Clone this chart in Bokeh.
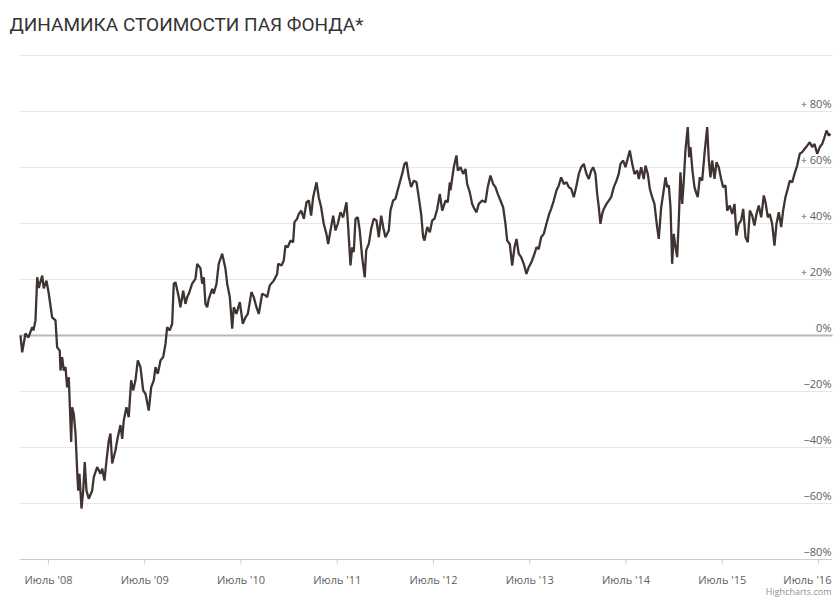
import math
from bokeh.plotting import figure
from bokeh.models import Range1d, Label, ColumnDataSource
from bokeh.core.properties import value
from bokeh.embed import file_html
from bokeh.resources import INLINE

# time as decimal years, value in % change of fund unit price
t = [
2008.209,2008.227,2008.261,2008.292,2008.331,2008.344,2008.365,2008.383,2008.399,2008.435,
2008.451,2008.479,2008.503,2008.538,2008.573,2008.590,2008.617,2008.625,2008.642,2008.659,
2008.677,2008.694,2008.711,2008.721,2008.736,2008.746,2008.763,2008.781,2008.798,2008.809,
2008.822,2008.843,2008.861,2008.877,2008.895,2008.919,2008.954,2008.971,2009.006,2009.040,
2009.058,2009.082,2009.103,2009.127,2009.144,2009.162,2009.196,2009.220,2009.248,2009.266,
2009.282,2009.310,2009.334,2009.359,2009.380,2009.404,2009.428,2009.456,2009.484,2009.508,
2009.542,2009.567,2009.594,2009.612,2009.636,2009.664,2009.692,2009.716,2009.733,2009.760,
2009.785,2009.802,2009.820,2009.854,2009.871,2009.900,2009.923,2009.941,2009.958,2009.993,
2010.027,2010.045,2010.079,2010.097,2010.114,2010.131,2010.149,2010.166,2010.201,2010.217,
2010.246,2010.269,2010.305,2010.339,2010.357,2010.384,2010.409,2010.425,2010.453,2010.488,
2010.519,2010.547,2010.571,2010.609,2010.633,2010.661,2010.685,2010.720,2010.755,2010.772,
2010.799,2010.841,2010.876,2010.887,2010.921,2010.945,2010.962,2010.986,2011.014,2011.042,
2011.056,2011.084,2011.101,2011.126,2011.153,2011.181,2011.205,2011.229,2011.250,2011.285,
2011.308,2011.333,2011.360,2011.388,2011.406,2011.430,2011.458,2011.482,2011.506,2011.534,
2011.562,2011.596,2011.614,2011.638,2011.655,2011.672,2011.690,2011.714,2011.734,2011.759,
2011.786,2011.801,2011.828,2011.853,2011.880,2011.908,2011.932,2011.957,2011.978,2012.001,
2012.036,2012.053,2012.081,2012.105,2012.123,2012.150,2012.175,2012.199,2012.220,2012.244,
2012.268,2012.296,2012.324,2012.347,2012.372,2012.393,2012.407,2012.435,2012.462,2012.487,
2012.511,2012.539,2012.566,2012.591,2012.625,2012.649,2012.670,2012.677,2012.711,2012.739,
2012.753,2012.781,2012.809,2012.833,2012.850,2012.877,2012.902,2012.926,2012.947,2012.971,
2013.006,2013.040,2013.064,2013.092,2013.120,2013.144,2013.168,2013.196,2013.224,2013.248,
2013.266,2013.293,2013.318,2013.342,2013.363,2013.386,2013.411,2013.438,2013.466,2013.490,
2013.518,2013.550,2013.570,2013.594,2013.619,2013.646,2013.674,2013.702,2013.723,2013.750,
2013.778,2013.802,2013.827,2013.854,2013.882,2013.906,2013.931,2013.958,2013.986,2014.010,
2014.035,2014.062,2014.090,2014.114,2014.139,2014.159,2014.183,2014.201,2014.218,2014.235,
2014.253,2014.270,2014.298,2014.322,2014.346,2014.374,2014.402,2014.425,2014.443,2014.471,
2014.495,2014.513,2014.540,2014.565,2014.589,2014.617,2014.633,2014.658,2014.685,2014.703,
2014.727,2014.748,2014.772,2014.796,2014.824,2014.841,2014.866,2014.887,2014.911,2014.928,
2014.945,2014.963,2014.980,2014.997,2015.015,2015.032,2015.049,2015.066,2015.084,2015.101,
2015.118,2015.142,2015.157,2015.170,2015.191,2015.212,2015.233,2015.246,2015.267,2015.292,
2015.316,2015.344,2015.361,2015.378,2015.396,2015.420,2015.441,2015.464,2015.489,2015.510,
2015.534,2015.552,2015.579,2015.604,2015.628,2015.648,2015.672,2015.697,2015.718,2015.742,
2015.766,2015.787,2015.812,2015.835,2015.856,2015.880,2015.905,2015.932,2015.950,2015.974,
2015.994,2016.019,2016.043,2016.064,2016.088,2016.113,2016.133,2016.157,2016.181,2016.202,
2016.227,2016.251,2016.279,2016.306,2016.331,2016.355,2016.383,2016.410,2016.435,2016.459,
2016.487,2016.514,2016.539,2016.563,2016.584,2016.607,2016.625,
]
v = [
0,-6,0.7,-0.7,3,1.8,5.4,20.8,17,21.4,
16.8,19.6,15,6.5,5.4,-4.2,-5.4,-12.5,-7.7,-12.5,
-11.3,-18.5,-14.9,-24.3,-38,-25.6,-28,-35,-48.2,-55.4,
-49.4,-61.8,-55.4,-45.2,-55.4,-58.3,-55.4,-50.6,-47,-49.4,
-47.5,-51.8,-44.6,-37.5,-35,-45.7,-41,-36.3,-32,-36.9,
-30.4,-25.6,-29.2,-16,-19.6,-16,-8.9,-11.3,-19.6,-20.8,
-26.8,-18.5,-16,-11.3,-13.7,-8.9,-7.7,-3,3,1.8,
4.2,18.5,19,13.7,10.1,16,11.3,13.7,14.9,18.5,
20.2,25.6,24,18.5,20.8,11.3,10.1,13.1,16.7,14.9,
18.5,25.6,29.2,23.8,18.5,13.7,2.4,10.1,7.7,11.9,
4.2,6.5,7.7,15.5,13.7,10.1,7.7,14.9,14.3,13.7,
17.9,19.6,22,25.6,25,26.8,32.1,31.5,33.9,33.3,
40.5,41.7,43.4,44.6,41.7,47.6,48.2,42.8,49.4,54.7,
49.4,45.8,39.9,36.3,32.7,37.5,42.8,37.5,39.9,44,
42.2,47.6,38.7,25,31.5,29.8,41.7,42.2,37.5,28,
20.8,30.4,32.7,38.1,41.7,41.1,35.1,42.8,38.7,35.1,
37.5,44.6,48.2,48.8,51.2,54.7,57.7,61.3,61.9,56.5,
53,55.3,54.7,49.4,43.4,35.1,33.9,38.7,36.9,41.1,
41.7,45.2,50.6,44.6,48.2,47.6,54.7,51.8,60.1,64.3,
58.9,60.1,57.7,59.5,54.1,51.2,47,45.2,44,47,
48.2,47.6,53,57.1,54.1,53,50.6,48.2,45.8,39.9,
33.9,32.7,25,31.5,34.5,29.2,28,25.6,22,24.4,
26.2,29.2,31.5,30.9,35.1,36.3,39.9,43.4,45.2,48.2,
51.8,53.6,56.5,54.1,54.7,53,52.4,49.4,53.6,57.7,
60.1,61.3,57.7,55.9,58.9,60.1,57.7,50.6,45.8,39.9,
43.4,45.2,47,48.2,49.4,53,55.3,57.7,61.3,62.5,
60.1,62.5,66.1,61.3,57.7,58.9,55.9,60.1,55.9,60.7,
57.7,52.4,49.4,47,38.7,34.5,45.8,50.6,56.5,53,
53.6,45.8,25.6,36.3,31.5,28,41.1,58.3,47,55.3,
66.1,74.4,63.7,67.3,58.9,53,50.6,49.4,56.5,55.3,
64.9,74.4,62.5,56.5,62.5,55.9,61.9,60.1,55.9,53,
53.6,44.6,46.4,43.4,47,35.7,39.9,41.1,45.2,35.1,
33.3,44.6,42.8,39.3,43.4,46.4,42.2,50,47.6,42.2,
43.4,39.9,32.1,39.9,44,38.7,44.6,49.4,52.4,55.3,
54.7,57.7,60.7,64.9,65.5,66.6,67.8,69,67.3,68.4,
64.9,67.3,68.4,70.8,73.2,71.4,72,
]

x_ticks = [2008.5, 2009.5, 2010.5, 2011.5, 2012.5, 2013.5, 2014.5, 2015.5, 2016.5]
x_labels = ["Июль '08", "Июль '09", "Июль '10", "Июль '11", "Июль '12",
            "Июль '13", "Июль '14", "Июль '15", "Июль '16"]
y_ticks = [-80, -60, -40, -20, 0, 20, 40, 60, 80, 100]
y_labels = ["−80%", "−60%", "−40%", "−20%", "0%", "+ 20%", "+ 40%", "+ 60%", "+ 80%"]

# data extent of the plotting area
X0, X1 = 2008.199, 2016.646
Y0, Y1 = -80, 100

# canvas layout (pixels): the plotting area sits inside a full-canvas frame so that
# the title, axis labels and credit can be drawn freely around it
W, H = 840, 597
PL, PR, PT, PB = 19, 832, 55, 559
sx = (PR - PL) / (X1 - X0)
sy = (PB - PT) / (Y1 - Y0)
xr = Range1d(X0 - PL / sx, X1 + (W - PR) / sx)
yr = Range1d(Y0 - (H - PB) / sy, Y1 + PT / sy)

p = figure(width=W, height=H, output_backend="svg", toolbar_location=None,
           x_range=xr, y_range=yr, min_border=0,
           x_axis_type=None, y_axis_type=None)
p.outline_line_color = None
p.background_fill_color = "white"
p.border_fill_color = "white"
p.grid.visible = False

# horizontal grid lines across the plotting area
grid_y = [yt for yt in y_ticks if yt not in (Y0, 0)]
p.segment(x0=[X0] * len(grid_y), x1=[X1] * len(grid_y), y0=grid_y, y1=grid_y,
          line_color="#E6E6E6", line_width=1)
# zero line
p.segment(x0=[X0], x1=[X1], y0=[0], y1=[0], line_color="#B8B8B8", line_width=2)
# x axis line and ticks
p.segment(x0=[X0], x1=[X1], y0=[Y0], y1=[Y0], line_color="#C0D0E0", line_width=1)
p.ray(x=x_ticks, y=[Y0] * len(x_ticks), length=5, length_units="screen",
      angle=-math.pi / 2, line_color="#C0D0E0", line_width=1)

# the series
src = ColumnDataSource(dict(t=t, v=v))
p.line("t", "v", source=src, line_color="#3F3432", line_width=2.3)

# x tick labels (the last one is kept inside the chart, right-aligned)
p.text(x=x_ticks[:-1], y=[Y0] * (len(x_ticks) - 1), text=x_labels[:-1],
       text_align="center", text_baseline="alphabetic", y_offset=20,
       text_font=value("Open Sans"), text_font_size="11px", text_color="#606060")
p.text(x=x_ticks[-1:], y=[Y0], text=x_labels[-1:],
       text_align="right", text_baseline="alphabetic", y_offset=20, x_offset=13,
       text_font=value("Open Sans"), text_font_size="11px", text_color="#606060")

# y labels inside plot on the right
p.text(x=[X1] * len(y_labels), y=y_ticks[:len(y_labels)], text=y_labels,
       text_align="right", text_baseline="bottom", x_offset=-1, y_offset=-1,
       text_font=value("Open Sans"), text_font_size="11px", text_color="#606060")

# title and credit
p.add_layout(Label(x=9, y=H - 24, x_units="screen", y_units="screen",
                   text="ДИНАМИКА СТОИМОСТИ ПАЯ ФОНДА*", text_font="Roboto",
                   text_font_size="19px", text_color="#333333", text_baseline="alphabetic"))
p.add_layout(Label(x=831, y=H - 591, x_units="screen", y_units="screen",
                   text="Highcharts.com", text_font="Open Sans", text_font_size="9px",
                   text_color="#909090", text_align="right", text_baseline="alphabetic"))

open("out.html", "w").write(file_html(p, INLINE))
